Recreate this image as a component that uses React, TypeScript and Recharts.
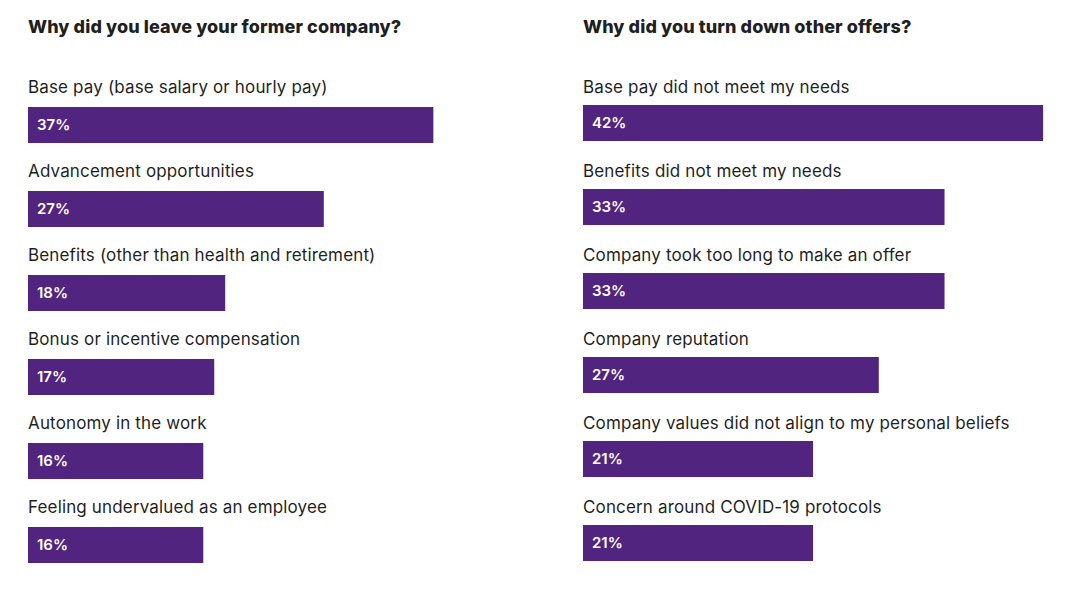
import * as React from 'react';
import { Bar, BarChart, LabelList, XAxis, YAxis } from 'recharts';

const leftTitle = 'Why did you leave your former company?';
const leftCategories = [
  'Base pay (base salary or hourly pay)',
  'Advancement opportunities',
  'Benefits (other than health and retirement)',
  'Bonus or incentive compensation',
  'Autonomy in the work',
  'Feeling undervalued as an employee',
];
const leftValues = [37, 27, 18, 17, 16, 16];

const rightTitle = 'Why did you turn down other offers?';
const rightCategories = [
  'Base pay did not meet my needs',
  'Benefits did not meet my needs',
  'Company took too long to make an offer',
  'Company reputation',
  'Company values did not align to my personal beliefs',
  'Concern around COVID-19 protocols',
];
const rightValues = [42, 33, 33, 27, 21, 21];

const purple = '#51247f';
const ink = '#1f1f1f';
const font = 'Inter, "Noto Sans", sans-serif';

type PanelProps = {
  title: string;
  categories: string[];
  values: number[];
  left: number;
  width: number;
  top: number;
  labelGap: number;
};

function Panel({ title, categories, values, left, width, top, labelGap }: PanelProps) {
  const data = categories.map((name, i) => ({ name, value: values[i] }));
  const plotWidth = 493;

  return (
    <div style={{ position: 'absolute', left, top: 0, width, height: 598 }}>
      <div
        style={{
          position: 'absolute',
          left: 28,
          top: 17,
          fontFamily: font,
          fontWeight: 800,
          fontSize: 18,
          letterSpacing: 0.1,
          lineHeight: '20px',
          color: ink,
          whiteSpace: 'nowrap',
        }}
      >
        {title}
      </div>
      <BarChart
        layout="vertical"
        width={width}
        height={598}
        data={data}
        margin={{ top, right: width - 28 - plotWidth, bottom: 598 - top - 504, left: 28 }}
        barSize={36}
      >
        <XAxis type="number" domain={[0, 45]} hide />
        <YAxis type="category" dataKey="name" hide />
        <Bar dataKey="value" fill={purple} isAnimationActive={false}>
          <LabelList
            dataKey="name"
            content={(p: any) => (
              <text x={p.x} y={p.y - labelGap} fill={ink} fontFamily={font} fontSize={17} letterSpacing={0.15}>
                {p.value}
              </text>
            )}
          />
          <LabelList
            dataKey="value"
            content={(p: any) => (
              <text
                x={p.x + 9}
                y={p.y + p.height / 2}
                dy="0.35em"
                fill="#ffffff"
                fontFamily={font}
                fontWeight={600}
                fontSize={15}
              >
                {`${p.value}%`}
              </text>
            )}
          />
        </Bar>
      </BarChart>
    </div>
  );
}

export default function App() {
  return (
    <div style={{ position: 'absolute', left: 0, top: 0, width: 1080, height: 598, background: '#fff' }}>
      <Panel title={leftTitle} categories={leftCategories} values={leftValues} left={0} width={540} top={83} labelGap={14} />
      <Panel title={rightTitle} categories={rightCategories} values={rightValues} left={555} width={525} top={81} labelGap={12} />
    </div>
  );
}
